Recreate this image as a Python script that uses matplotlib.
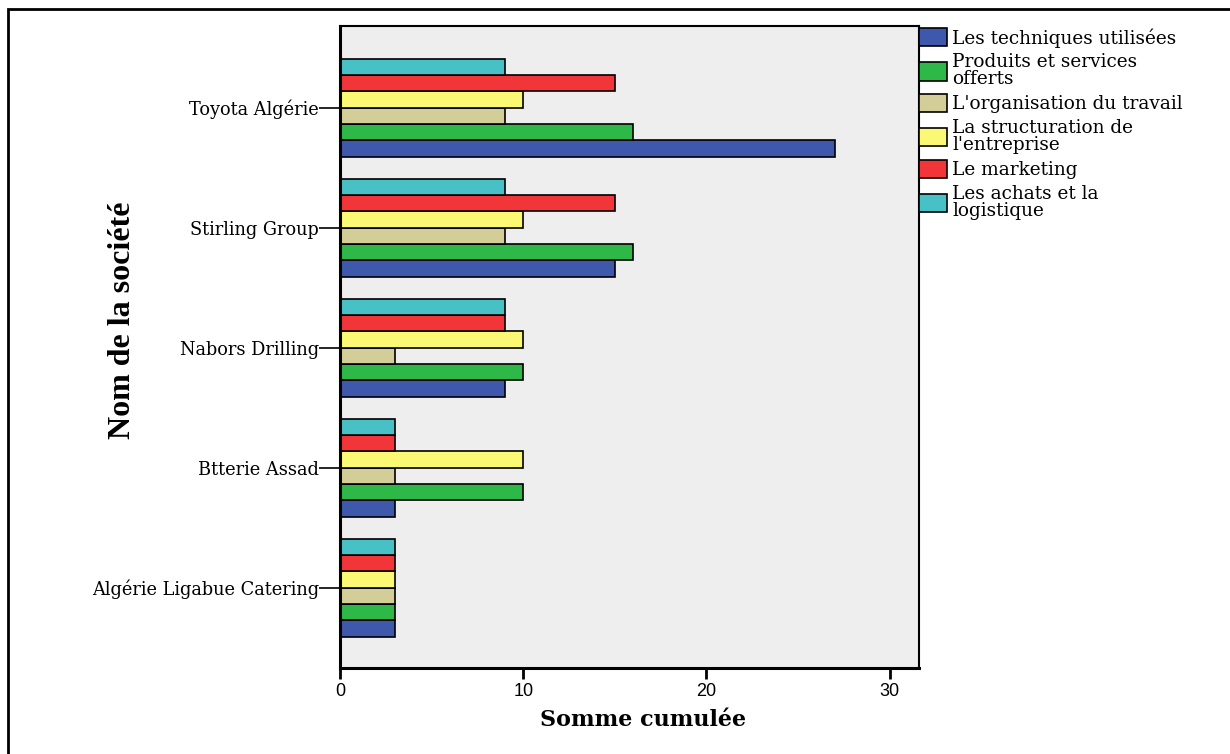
import numpy as np
import matplotlib.pyplot as plt
from matplotlib.patches import Rectangle

societes = ["Toyota Algérie", "Stirling Group", "Nabors Drilling",
            "Btterie Assad", "Algérie Ligabue Catering"]

series = ["Les techniques utilisées", "Produits et services\nofferts",
          "L'organisation du travail", "La structuration de\nl'entreprise",
          "Le marketing", "Les achats et la\nlogistique"]

techniques = [27, 15, 9, 3, 3]
produits = [16, 16, 10, 10, 3]
organisation = [9, 9, 3, 3, 3]
structuration = [10, 10, 10, 10, 3]
marketing = [15, 15, 9, 3, 3]
achats = [9, 9, 9, 3, 3]

couleurs = ["#3E58AC", "#2EB848", "#D3CE97", "#FBF873", "#F23539", "#48C1C6"]

valeurs = [techniques, produits, organisation, structuration, marketing, achats]

serif = ["DejaVu Serif"]
times = ["Liberation Serif", "DejaVu Serif"]
sans = ["Liberation Sans", "DejaVu Sans"]

fig = plt.figure(figsize=(12.3, 7.54), dpi=100)
ax = fig.add_axes([340 / 1230, 1 - 668 / 754, 579 / 1230, 642 / 754])
ax.set_facecolor("#EEEEEE")

# cadre autour de la figure
fig.patches.append(Rectangle((8 / 1230, -0.01), 1.0, 1 - 9 / 754 + 0.01,
                             transform=fig.transFigure, fill=False,
                             edgecolor="black", linewidth=2))

pos = np.arange(len(societes))[::-1]
h = 0.136
for i, (nom, vals, c) in enumerate(zip(series, valeurs, couleurs)):
    ax.barh(pos + (i - 2.5) * h, vals, height=h, color=c,
            edgecolor="black", linewidth=1.2, label=nom)

ax.set_xlim(0, 31.6)
ax.set_ylim(-0.67, 4.68)
ax.set_xticks([0, 10, 20, 30])
ax.set_xticklabels(["0", "10", "20", "30"], fontfamily=sans, fontsize=13)
ax.set_yticks(pos)
ax.set_yticklabels(societes, fontfamily=serif, fontsize=12.8)
ax.tick_params(axis="y", length=15, width=1.2, pad=0)
ax.tick_params(axis="x", length=8, width=2, pad=3)
for s in ax.spines.values():
    s.set_linewidth(1.5)
ax.spines["left"].set_linewidth(2.2)
ax.spines["bottom"].set_linewidth(2.2)

ax.set_xlabel("Somme cumulée", fontfamily=serif, fontweight="bold",
              fontsize=16)
ax.xaxis.set_label_coords((643 - 340) / 579, -(720 - 668) / 642)
ax.xaxis.label.set_va("center")
fig.text(122 / 1230, 1 - 320 / 754, "Nom de la société", rotation=90,
         fontfamily=times, fontweight="bold", fontsize=23,
         ha="center", va="center")

leg = fig.legend(loc="upper left", bbox_to_anchor=(919 / 1230, 1 - 28 / 754),
                 frameon=False, prop={"family": serif, "size": 13.3},
                 borderpad=0, borderaxespad=0, handlelength=1.5,
                 handleheight=1.15, handletextpad=0.3, labelspacing=0.3)
for t in leg.get_texts():
    t.set_linespacing(0.95)

fig.savefig("out.png", dpi=100, facecolor="white")
